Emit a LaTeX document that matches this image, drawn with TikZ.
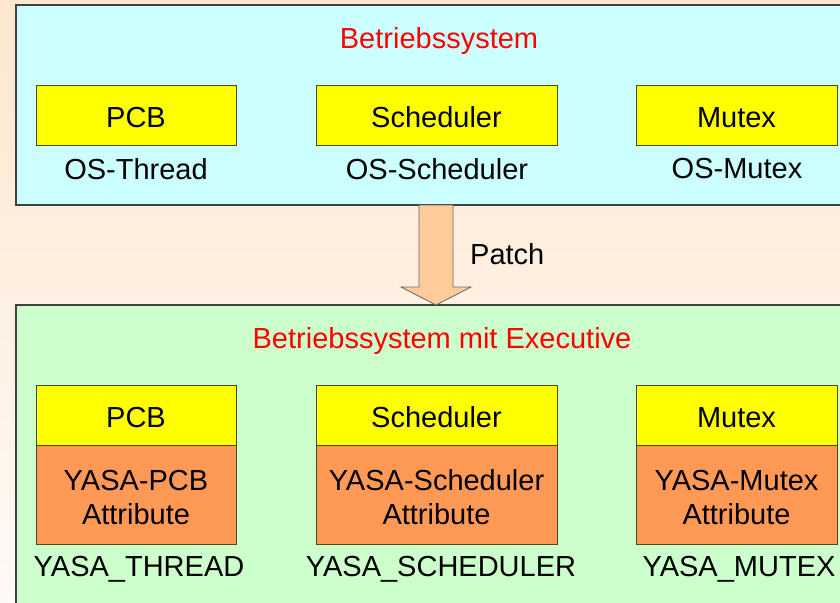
\documentclass[tikz,border=0pt]{standalone}
\usepackage{fontspec}
\setmainfont{Liberation Sans}
\usetikzlibrary{calc}
\definecolor{bgtop}{HTML}{FDE7CF}
\definecolor{bgbot}{HTML}{FFF9F5}
\definecolor{oscyan}{HTML}{CCFFFF}
\definecolor{exgreen}{HTML}{CCFFCC}
\definecolor{boxyellow}{HTML}{FFFF00}
\definecolor{attrorange}{HTML}{FF9955}
\definecolor{arrowfill}{HTML}{FFCC99}
\definecolor{panelline}{HTML}{404040}
\definecolor{boxline}{HTML}{4A4A20}
% two-line attribute label, with a strut on the first line to sit it a bit lower
\newcommand{\attrlines}[2]{\rule{0pt}{27pt}#1\\#2}
\tikzset{
  panel/.style={draw=panelline, line width=1.6pt, anchor=north west, inner sep=0pt, outer sep=0pt},
  compbox/.style={draw=boxline, line width=1pt, fill=boxyellow, anchor=north west,
    minimum width=200pt, minimum height=60pt, inner sep=0pt, outer sep=0pt,
    text height=25pt, text depth=0pt},
  attrbox/.style={draw=boxline, line width=1pt, fill=attrorange, anchor=north west,
    minimum width=200pt, minimum height=99pt, inner sep=0pt, outer sep=0pt, align=center},
  title/.style={text=red},
  caption/.style={inner sep=0pt}
}
\begin{document}
\begin{tikzpicture}[x=1pt, y=-1pt, font=\fontsize{29}{34}\selectfont]
\useasboundingbox (0,0) rectangle (840,602);
\shade[top color=bgtop, bottom color=bgbot] (0,0) rectangle (840,602);

% operating system panel
\node[panel, fill=oscyan, minimum width=840pt, minimum height=200pt] (os) at (16,5) {};
\node[title] (ostitle) at (439,41) {Betriebssystem};

\node[compbox] (pcb) at (36,85) {PCB};
\node[compbox, minimum width=241pt] (sched) at (316,85) {Scheduler};
\node[compbox, minimum width=201pt] (mutex) at (636,85) {Mutex};
\node[caption] (osthread) at (136,169) {OS-Thread};
\node[caption] (ossched) at (437,169) {OS-Scheduler};
\node[caption] (osmutex) at (737,169) {OS-Mutex};

% executive panel
\node[panel, fill=exgreen, minimum width=840pt, minimum height=320pt] (ex) at (16,305) {};
\node[title] (extitle) at (442,341) {Betriebssystem mit Executive};

\node[compbox] (xpcb) at (36,385) {PCB};
\node[compbox, minimum width=241pt] (xsched) at (316,385) {Scheduler};
\node[compbox, minimum width=201pt] (xmutex) at (636,385) {Mutex};
\node[attrbox] (apcb) at (36,445) {\attrlines{YASA-PCB}{Attribute}};
\node[attrbox, minimum width=241pt] (asched) at (316,445) {\attrlines{YASA-Scheduler}{Attribute}};
\node[attrbox, minimum width=201pt] (amutex) at (636,445) {\attrlines{YASA-Mutex}{Attribute}};
\node[caption] (ythread) at (139,569) {YASA\_THREAD};
\node[caption] (ysched) at (441,569) {YASA\_SCHEDULER};
\node[caption] (ymutex) at (739,569) {YASA\_MUTEX};

% patch arrow from one panel to the other
\coordinate (atop) at (436,205);
\coordinate (atip) at (436,305);
\draw[draw=gray!80!black, line width=0.8pt, fill=arrowfill]
  ($(atop)+(-17,0)$) -- ($(atop)+(17,0)$) -- ($(atip)+(17,-18)$) -- ($(atip)+(35,-18)$)
  -- (atip) -- ($(atip)+(-35,-18)$) -- ($(atip)+(-17,-18)$) -- cycle;
\node[caption, anchor=west] (patch) at (470,254) {Patch};
\end{tikzpicture}
\end{document}
